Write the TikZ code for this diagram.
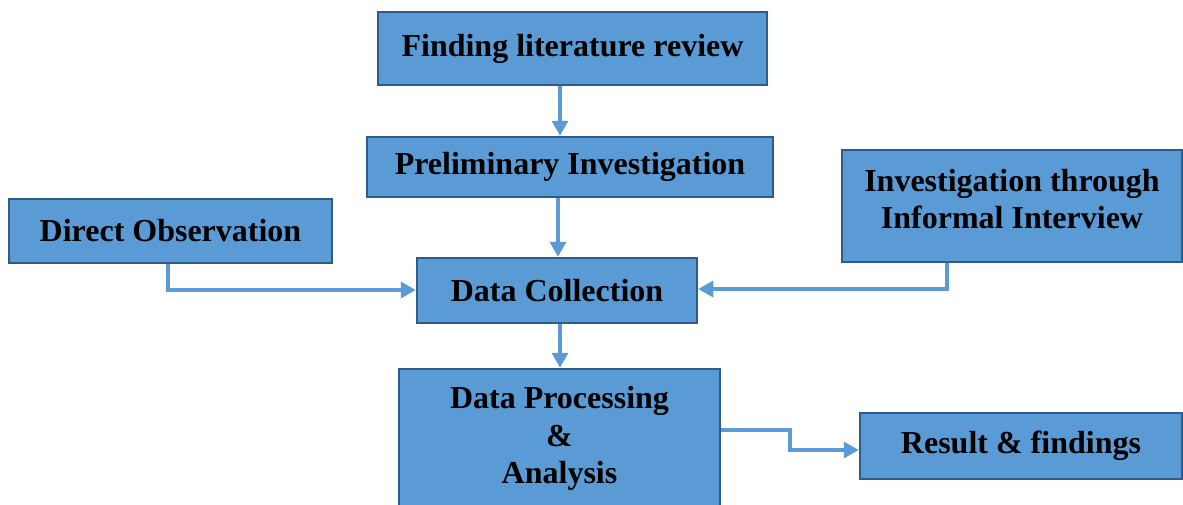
\documentclass[tikz,border=0pt]{standalone}
\usepackage{fontspec}
\setmainfont{Liberation Serif}
\usetikzlibrary{arrows.meta}
\definecolor{boxfill}{HTML}{5B9BD5}
\definecolor{boxline}{HTML}{2F5B8A}
\definecolor{arrcol}{HTML}{5B9BD5}
\begin{document}
\begin{tikzpicture}[x=1pt,y=-1pt,
  box/.style={draw=boxline, fill=boxfill, line width=2.5pt, inner sep=0pt,
    align=center, font=\fontsize{32}{37.5}\selectfont\bfseries},
  lbl/.style={font=\fontsize{32}{37.5}\selectfont\bfseries, align=center, inner sep=0pt},
  arr/.style={draw=arrcol, line width=3.2pt, -{Triangle[length=15pt,width=16pt]}}]
\clip (0,0) rectangle (1183,504);
\fill[white] (0,0) rectangle (1183,504);
\node[box, minimum width=389pt, minimum height=73pt] (fl) at (572.5,48.5) {Finding literature review};
\node[box, minimum width=406pt, minimum height=60pt] (pi) at (570,167) {Preliminary Investigation};
\node[box, minimum width=323pt, minimum height=64pt] (do) at (170.5,231) {Direct Observation};
\node[box, minimum width=340pt, minimum height=112pt] (ii) at (1012,206) {};
\node[lbl] at (1012,199) {Investigation through\\Informal Interview};
\node[box, minimum width=321pt, minimum height=145pt] (dp) at (559.5,441.5) {};
\node[lbl] at (559.5,438.5) {Data Processing\\\&\\Analysis};
\node[box, minimum width=280pt, minimum height=65pt] (dc) at (557,290.5) {Data Collection};
\node[box, minimum width=322pt, minimum height=66pt] (rf) at (1021,446) {Result \& findings};
\coordinate (c560) at (560,0);
\coordinate (c558) at (558,0);
\draw[arr] (fl.south -| c560) -- (pi.north -| c560);
\draw[arr] (pi.south -| c558) -- (dc.north -| c558);
\draw[arr] (do.south -| 168,0) |- (dc.west |- 0,290);
\draw[arr] (ii.south -| 947,0) |- (dc.east |- 0,289);
\draw[arr] (dc.south -| c560) -- (dp.north -| c560);
\draw[arr] (dp.east |- 0,430) -- (790,430) -- (790,450) -- (rf.west |- 0,450);
\end{tikzpicture}
\end{document}
